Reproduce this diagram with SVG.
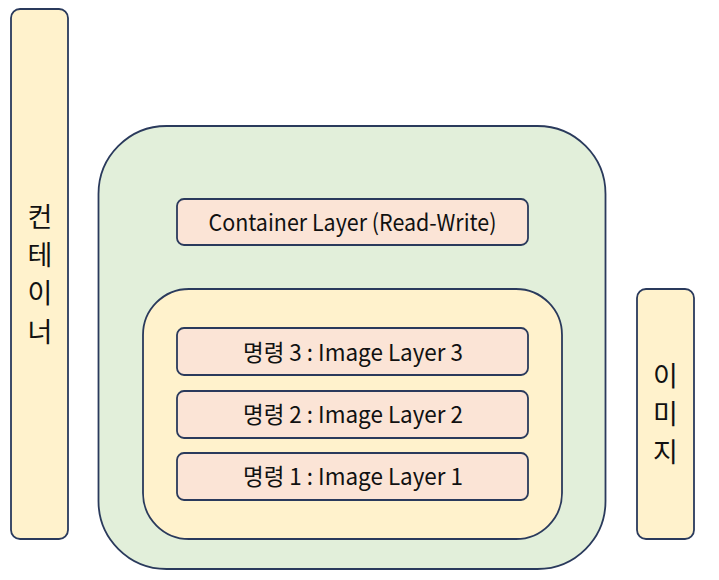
<svg xmlns="http://www.w3.org/2000/svg" width="719" height="580" viewBox="0 0 719 580">
<style>
.b{stroke:#2a3a5c;stroke-width:1.8}
.y{fill:#fff2cc}
.g{fill:#e2efda}
.p{fill:#fbe4d6}
text{font-family:"Noto Sans CJK KR","Noto Sans",sans-serif;fill:#111}
.l{font-size:23px;text-anchor:middle}
.v{font-size:27px;text-anchor:middle;dominant-baseline:central}
</style>
<rect width="719" height="580" fill="#ffffff"/>
<g id="container-bar">
<rect class="b y" x="11" y="9" width="57" height="530" rx="9"/>
<text class="v" x="40" y="215">컨</text>
<text class="v" x="40" y="253">테</text>
<text class="v" x="40" y="291">이</text>
<text class="v" x="40" y="330">너</text>
</g>
<g id="image-bar">
<rect class="b y" x="637" y="289" width="57" height="250" rx="9"/>
<text class="v" x="665.5" y="374">이</text>
<text class="v" x="665.5" y="412">미</text>
<text class="v" x="665.5" y="450">지</text>
</g>
<g id="container">
<rect class="b g" x="98.5" y="126" width="507" height="443" rx="68"/>
</g>
<g id="container-layer">
<rect class="b p" x="177" y="199" width="351" height="46" rx="7"/>
<text class="l" x="352.5" y="231" textLength="288" lengthAdjust="spacingAndGlyphs">Container Layer (Read-Write)</text>
</g>
<g id="image">
<rect class="b y" x="143" y="289" width="419" height="250" rx="46"/>
</g>
<g id="layer3">
<rect class="b p" x="177" y="328" width="351" height="47" rx="7"/>
<text class="l" x="353" y="361" textLength="220" lengthAdjust="spacingAndGlyphs">명령 3 : Image Layer 3</text>
</g>
<g id="layer2">
<rect class="b p" x="177" y="391" width="351" height="47" rx="7"/>
<text class="l" x="353" y="423" textLength="220" lengthAdjust="spacingAndGlyphs">명령 2 : Image Layer 2</text>
</g>
<g id="layer1">
<rect class="b p" x="177" y="453" width="351" height="47" rx="7"/>
<text class="l" x="353" y="485" textLength="220" lengthAdjust="spacingAndGlyphs">명령 1 : Image Layer 1</text>
</g>
<g id="connectors"></g>
</svg>
